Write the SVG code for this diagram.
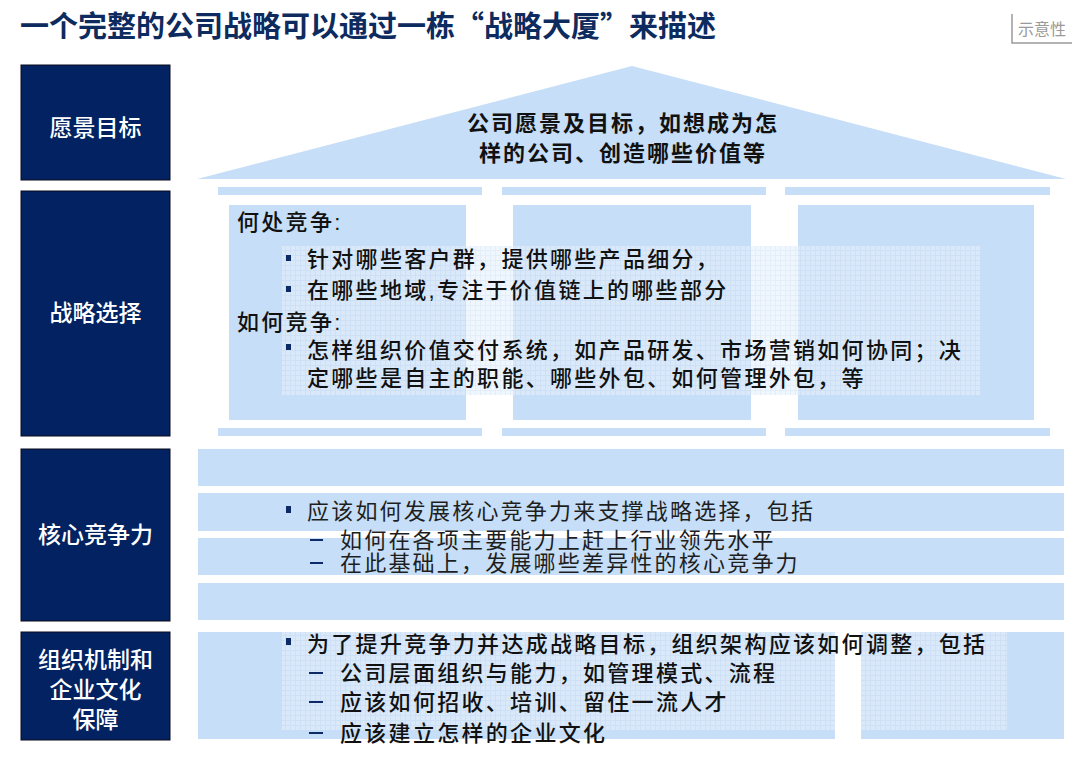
<svg xmlns="http://www.w3.org/2000/svg" width="1080" height="763" viewBox="0 0 1080 763">
<defs>
<style>
.lbox{fill:#022262;stroke:#0a0a1a;stroke-width:1}
.ltxt{font-family:"Liberation Sans","Noto Sans CJK SC",sans-serif;font-size:23px;fill:#ffffff;text-anchor:middle;font-weight:500}
.blue{fill:#c6def7}
.txt{font-family:"Liberation Sans","Noto Sans CJK SC",sans-serif;font-size:22px;fill:#111111;letter-spacing:2.3px;font-weight:500}
.ctxt{font-family:"Liberation Sans","Noto Sans CJK SC",sans-serif;font-size:22px;fill:#1e1e1e;letter-spacing:2.2px}
.bul{fill:#0b2a66}
.dash{stroke:#0b2a66;stroke-width:2}
</style>
<pattern id="grid" width="5" height="5" patternUnits="userSpaceOnUse">
<rect width="5" height="5" fill="#e6f0fc"/>
<path d="M0 0.5H5M0.5 0V5" stroke="#d2e2f5" stroke-width="1"/>
</pattern>
</defs>
<rect width="1080" height="763" fill="#ffffff"/>

<g id="title">
<text x="20" y="37" font-family="Noto Sans CJK SC, Liberation Sans, sans-serif" font-size="29" font-weight="700" fill="#0d2b5e">一个完整的公司战略可以通过一栋“战略大厦”来描述</text>
</g>

<g id="note">
<path d="M1012 14 V43 H1072" fill="none" stroke="#9a9a9a" stroke-width="1.5"/>
<text x="1042" y="35" font-family="Liberation Sans, Noto Sans CJK SC, sans-serif" font-size="16" fill="#9a9a9a" text-anchor="middle">示意性</text>
</g>

<g id="label-vision">
<rect class="lbox" x="21" y="65" width="149" height="115"/>
<text class="ltxt" x="95.5" y="136">愿景目标</text>
</g>
<g id="label-strategy">
<rect class="lbox" x="21" y="191" width="149" height="245"/>
<text class="ltxt" x="95.5" y="321">战略选择</text>
</g>
<g id="label-core">
<rect class="lbox" x="21" y="449" width="149" height="172"/>
<text class="ltxt" x="95.5" y="543">核心竞争力</text>
</g>
<g id="label-org">
<rect class="lbox" x="21" y="632" width="149" height="108"/>
<text class="ltxt" x="95.5" y="668">组织机制和</text>
<text class="ltxt" x="95.5" y="698">企业文化</text>
<text class="ltxt" x="95.5" y="728">保障</text>
</g>

<g id="roof">
<polygon class="blue" points="632,66 1066,179 197,179"/>
<text x="623" y="131" font-family="Liberation Sans, Noto Sans CJK SC, sans-serif" font-size="22" font-weight="600" fill="#111" text-anchor="middle" letter-spacing="2">公司愿景及目标，如想成为怎</text>
<text x="623" y="161" font-family="Liberation Sans, Noto Sans CJK SC, sans-serif" font-size="22" font-weight="600" fill="#111" text-anchor="middle" letter-spacing="2">样的公司、创造哪些价值等</text>
</g>

<g id="pillars">
<rect class="blue" x="218" y="187" width="264" height="8"/>
<rect class="blue" x="502" y="187" width="264" height="8"/>
<rect class="blue" x="785" y="187" width="265" height="8"/>
<rect class="blue" x="229" y="205" width="237" height="215"/>
<rect class="blue" x="513" y="205" width="238" height="215"/>
<rect class="blue" x="798" y="205" width="236" height="215"/>
<rect class="blue" x="218" y="428" width="264" height="8"/>
<rect class="blue" x="502" y="428" width="264" height="8"/>
<rect class="blue" x="785" y="428" width="265" height="8"/>
<rect x="282" y="246" width="698" height="149" fill="url(#grid)" opacity="0.6"/>
</g>

<g id="strategy-text">
<text class="txt" x="237" y="230">何处竞争:</text>
<rect class="bul" x="286" y="255" width="5" height="6"/>
<text class="txt" x="307" y="267">针对哪些客户群，提供哪些产品细分，</text>
<rect class="bul" x="286" y="286" width="5" height="6"/>
<text class="txt" x="307" y="298">在哪些地域,专注于价值链上的哪些部分</text>
<text class="txt" x="237" y="330">如何竞争:</text>
<rect class="bul" x="286" y="344" width="5" height="6"/>
<text class="txt" x="307" y="358">怎样组织价值交付系统，如产品研发、市场营销如何协同；决</text>
<text class="txt" x="307" y="386">定哪些是自主的职能、哪些外包、如何管理外包，等</text>
</g>

<g id="core">
<rect class="blue" x="198" y="449" width="866" height="37"/>
<rect class="blue" x="198" y="493" width="866" height="38"/>
<rect class="blue" x="198" y="538" width="866" height="37"/>
<rect class="blue" x="198" y="583" width="866" height="37"/>
<rect class="bul" x="286" y="506" width="5" height="7"/>
<text class="ctxt" x="307" y="519">应该如何发展核心竞争力来支撑战略选择，包括</text>
<line class="dash" x1="310" y1="540" x2="323" y2="540"/>
<text class="ctxt" x="340" y="548">如何在各项主要能力上赶上行业领先水平</text>
<line class="dash" x1="310" y1="563" x2="323" y2="563"/>
<text class="ctxt" x="340" y="571">在此基础上，发展哪些差异性的核心竞争力</text>
</g>

<g id="org">
<rect class="blue" x="198" y="632" width="866" height="107"/>
<rect x="282" y="632" width="725" height="98" fill="url(#grid)" opacity="0.6"/>
<rect x="835" y="632" width="26" height="108" fill="#ffffff"/>
<rect class="bul" x="286" y="638" width="5" height="7"/>
<text class="txt" x="307" y="652">为了提升竞争力并达成战略目标，组织架构应该如何调整，包括</text>
<line class="dash" x1="309" y1="673" x2="323" y2="673"/>
<text class="txt" x="340" y="681">公司层面组织与能力，如管理模式、流程</text>
<line class="dash" x1="309" y1="702" x2="323" y2="702"/>
<text class="txt" x="340" y="710">应该如何招收、培训、留住一流人才</text>
<line class="dash" x1="309" y1="733" x2="323" y2="733"/>
<text class="txt" x="340" y="741">应该建立怎样的企业文化</text>
</g>

<g id="connectors"></g>
</svg>
